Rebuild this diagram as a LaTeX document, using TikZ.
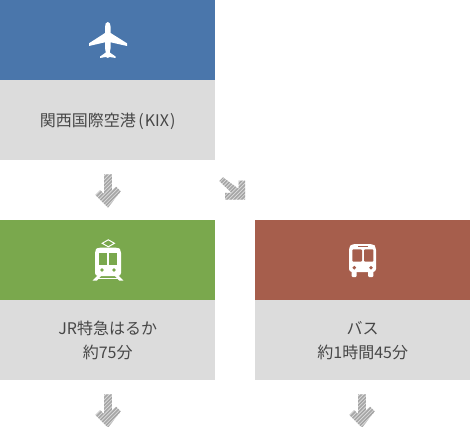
\documentclass[tikz,border=0pt]{standalone}
\usepackage{fontspec}
\setmainfont{Noto Sans CJK JP}
\definecolor{cblue}{HTML}{4A76AB}
\definecolor{cgray}{HTML}{DCDCDC}
\definecolor{cgreen}{HTML}{7AA84D}
\definecolor{cbrown}{HTML}{A65E4C}
\definecolor{hatchA}{HTML}{DEDEDE}
\definecolor{hatchB}{HTML}{A6A6A6}
\newcommand{\lineup}[1]{\raisebox{-1.6pt}{#1}}
\tikzset{
  head/.style={fill, draw=none, minimum width=215pt, minimum height=80pt, inner sep=0pt, anchor=north west},
  body/.style={fill=cgray, draw=none, minimum width=215pt, minimum height=80pt, inner sep=0pt, anchor=north west, text=black!72, font=\fontsize{16pt}{24pt}\selectfont, align=center},
  pics/downarrow/.style={code={
    \begin{scope}
      \clip (-3.8,0.3) -- (3.8,0.3) -- (3.8,16.5) -- (8,12.6) -- (12.7,17.4) -- (0,33.6) -- (-12.7,21) -- (-7.8,16.2) -- (-3.8,20) -- cycle;
      \fill[hatchA] (-14,-1) rectangle (14,35);
      \foreach \k in {-8,...,14} {\draw[hatchB,line width=1.6pt] (-16,{\k*3.7+16}) -- (16,{\k*3.7-16});}
    \end{scope}}},
  pics/diagarrow/.style={code={
    \begin{scope}
      \clip (-1.7,-2.7) -- (-5.4,1) -- (7,13) -- (0.3,13) -- (0.3,19.7) -- (20.5,19.7) -- (20.5,0.6) -- (14,0.6) -- (14,9) -- cycle;
      \fill[hatchA] (-7,-4) rectangle (22,21);
      \foreach \k in {-8,...,14} {\draw[hatchB,line width=1.6pt] (-16,{\k*3.7+8}) -- (30,{\k*3.7-38});}
    \end{scope}}}
}
\begin{document}
\begin{tikzpicture}[x=1pt,y=-1pt]
\useasboundingbox (0,0) rectangle (470,427);
\node[head,text=cblue,fill=cblue] (kixhead) at (0,0) {};
\node[body] (kix) at (0,80) {\strut\lineup{関西国際空港\hspace{2.5pt}(\hspace{1pt}KIX\hspace{1pt})}};
\node[head,fill=cgreen] (jrhead) at (0,220) {};
\node[body] (jr) at (0,300) {\strut\lineup{JR特急はるか}\\\strut\lineup{約75分}};
\node[head,fill=cbrown] (bushead) at (255,220) {};
\node[body] (bus) at (255,300) {\strut\lineup{バス}\\\strut\lineup{約1時間45分}};
% plane
\fill[white] (107.8,22) .. controls (106,22) and (105,24) .. (105,27) -- (105,33) -- (89,43.3) -- (89,46) -- (105,42.3) -- (105,48) -- (105.8,52.5) -- (100,56.6) -- (100,58) -- (106,57) -- (107.8,58) -- (109.6,57) -- (115.7,58) -- (115.7,56.6) -- (109.8,52.5) -- (110.6,48) -- (110.6,42.3) -- (127,46) -- (127,43.3) -- (110.6,33) -- (110.6,27) .. controls (110.6,24) and (109.6,22) .. (107.8,22) -- cycle;
% train
\draw[white,line width=1pt] (102.2,243.3) -- (108.3,239.8) -- (114.4,243.3) -- (108.3,246.8) -- cycle;
\fill[white,rounded corners=3pt] (95,276) -- (95,250) -- (98,247.5) -- (118,247.5) -- (121,250) -- (121,276) -- cycle;
\fill[cgreen] (99,253.3) rectangle (106.7,265);
\fill[cgreen] (109,253.3) rectangle (116.7,265);
\fill[cgreen] (102,270) circle (1.9);
\fill[cgreen] (114,270) circle (1.9);
\fill[white] (98,275) -- (102,275) -- (97,280.5) -- (92.7,280.5) -- cycle;
\fill[white] (118,275) -- (114,275) -- (119,280.5) -- (123.3,280.5) -- cycle;
\fill[white] (98,277.7) rectangle (118,279);
% bus
\fill[white,rounded corners=3pt] (349,272) -- (349,247) -- (352,244) -- (373,244) -- (376,247) -- (376,272) -- cycle;
\fill[white,rounded corners=1pt] (351.5,270) rectangle (356.7,277);
\fill[white,rounded corners=1pt] (368,270) rectangle (373.3,277);
\fill[cbrown,rounded corners=1pt] (352.3,249.3) rectangle (362,261.7);
\fill[cbrown,rounded corners=1pt] (364,249.3) rectangle (373.3,261.7);
\fill[cbrown] (358.3,245.6) rectangle (367.5,247);
\fill[cbrown] (354.3,267.7) circle (1.9);
\fill[cbrown] (371,267.7) circle (1.9);
% arrows
\pic at (108,174) {downarrow};
\pic at (224.7,180) {diagarrow};
\pic at (108,394) {downarrow};
\pic at (362,394) {downarrow};
\end{tikzpicture}
\end{document}
